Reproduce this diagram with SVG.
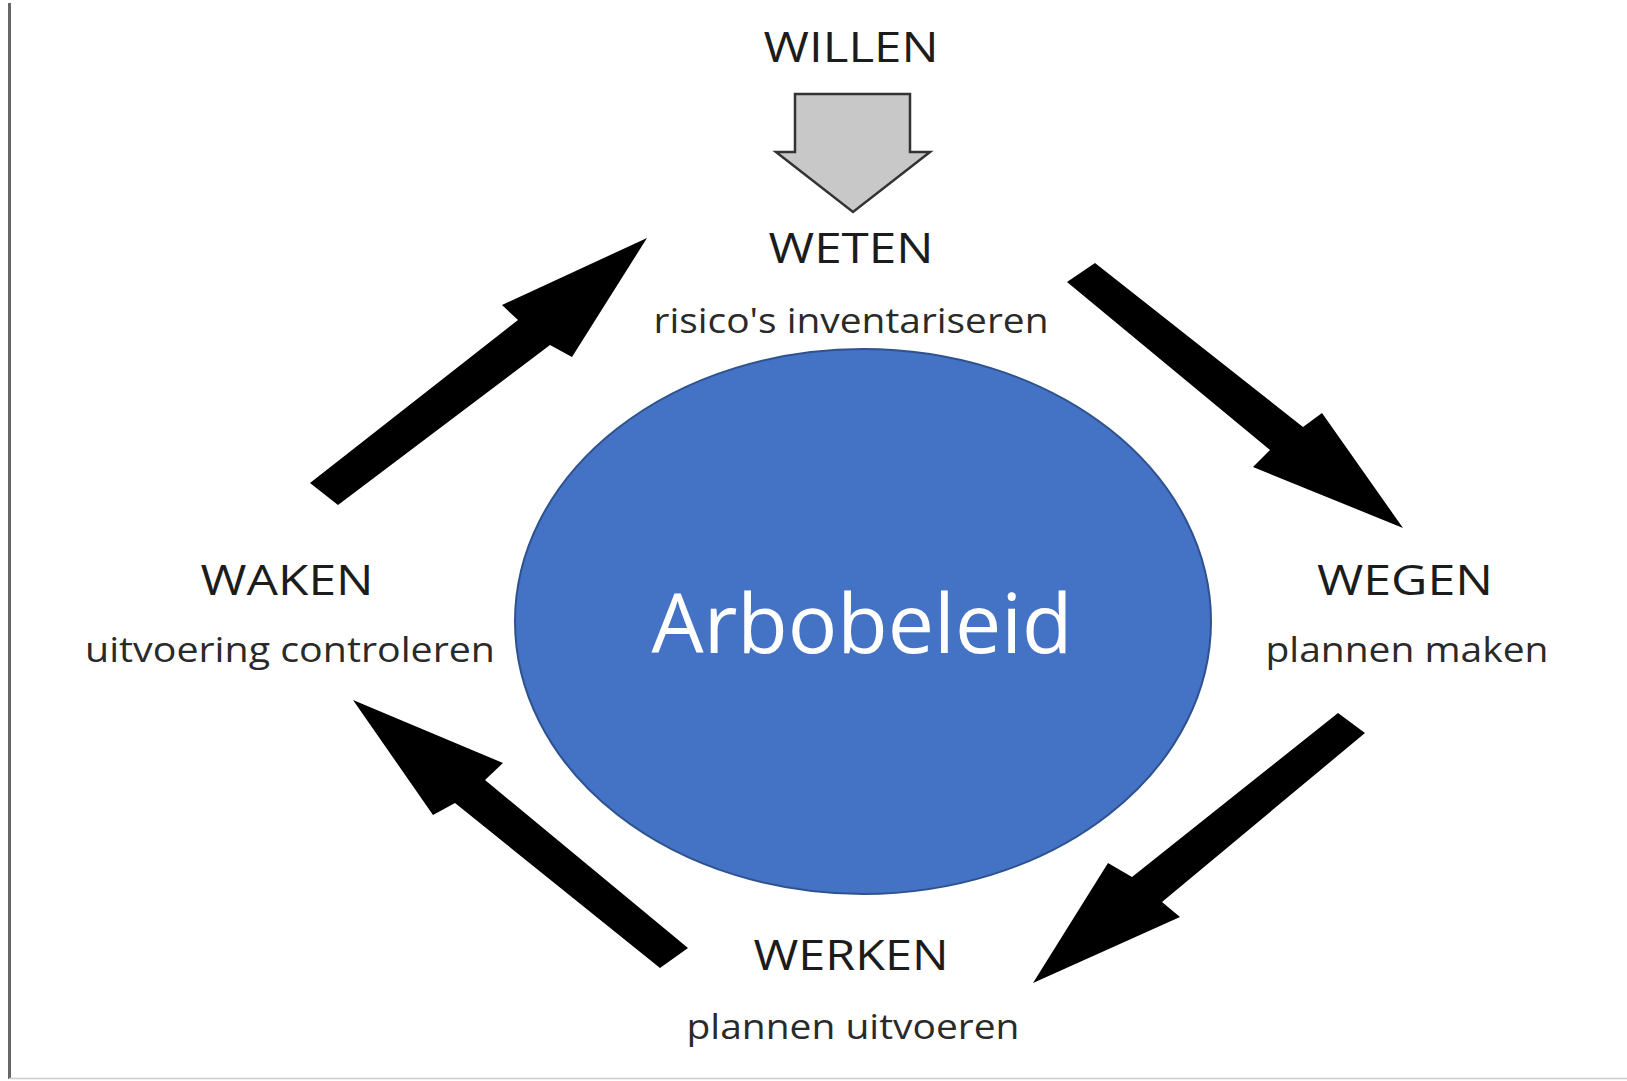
<svg xmlns="http://www.w3.org/2000/svg" width="1627" height="1081" viewBox="0 0 1627 1081">
  <style>
    .title { font-family: "Open Sans", "Liberation Sans", sans-serif; font-size: 42px; font-weight: 500; fill: #1c1c1c; text-anchor: middle; }
    .sub { font-family: "Open Sans", "Liberation Sans", sans-serif; font-size: 34px; font-weight: 500; fill: #2a2a2a; text-anchor: middle; }
    .blk { fill: #000000; }
  </style>
  <rect x="0" y="0" width="1627" height="1081" fill="#ffffff"/>
  <line x1="9.5" y1="3" x2="9.5" y2="1079" stroke="#666666" stroke-width="3"/>
  <line x1="9" y1="1078.5" x2="1627" y2="1078.5" stroke="#cccccc" stroke-width="1.5"/>

  <g id="connectors">
    <polygon id="arrow-willen-weten" points="795,94 910,94 910,152 930,152 853,212 776,152 795,152" fill="#c8c8c8" stroke="#333333" stroke-width="2.5" stroke-linejoin="miter"/>
    <polygon id="arrow-weten-wegen" class="blk" points="1095,263 1303,427 1322,413 1403,528 1253,467 1270,450 1067,282"/>
    <polygon id="arrow-wegen-werken" class="blk" points="1338,713 1365,733 1162,902 1180,917 1033,983 1108,863 1132,877"/>
    <polygon id="arrow-werken-waken" class="blk" points="353,700 503,763 485,780 688,948 660,968 455,803 433,815"/>
    <polygon id="arrow-waken-weten" class="blk" points="310,483 518,320 502,305 647,238 572,357 550,345 338,505"/>
  </g>

  <g id="node-willen">
    <text class="title" x="851" y="62" textLength="175" lengthAdjust="spacingAndGlyphs">WILLEN</text>
  </g>
  <g id="node-weten">
    <text class="title" x="851" y="263" textLength="165" lengthAdjust="spacingAndGlyphs">WETEN</text>
    <text class="sub" x="851" y="333" textLength="395" lengthAdjust="spacingAndGlyphs">risico's inventariseren</text>
  </g>
  <g id="node-wegen">
    <text class="title" x="1405" y="595" textLength="176" lengthAdjust="spacingAndGlyphs">WEGEN</text>
    <text class="sub" x="1407" y="662" textLength="283" lengthAdjust="spacingAndGlyphs">plannen maken</text>
  </g>
  <g id="node-werken">
    <text class="title" x="851" y="970" textLength="195" lengthAdjust="spacingAndGlyphs">WERKEN</text>
    <text class="sub" x="853" y="1039" textLength="333" lengthAdjust="spacingAndGlyphs">plannen uitvoeren</text>
  </g>
  <g id="node-waken">
    <text class="title" x="287" y="595" textLength="173" lengthAdjust="spacingAndGlyphs">WAKEN</text>
    <text class="sub" x="290" y="662" textLength="410" lengthAdjust="spacingAndGlyphs">uitvoering controleren</text>
  </g>
  <g id="node-arbobeleid">
    <ellipse cx="863" cy="621.5" rx="348" ry="272.5" fill="#4472C4" stroke="#2F528F" stroke-width="2"/>
    <text x="862" y="653" font-family="'Open Sans', 'Liberation Sans', sans-serif" font-size="82" fill="#ffffff" text-anchor="middle" textLength="421" lengthAdjust="spacingAndGlyphs">Arbobeleid</text>
  </g>
</svg>
